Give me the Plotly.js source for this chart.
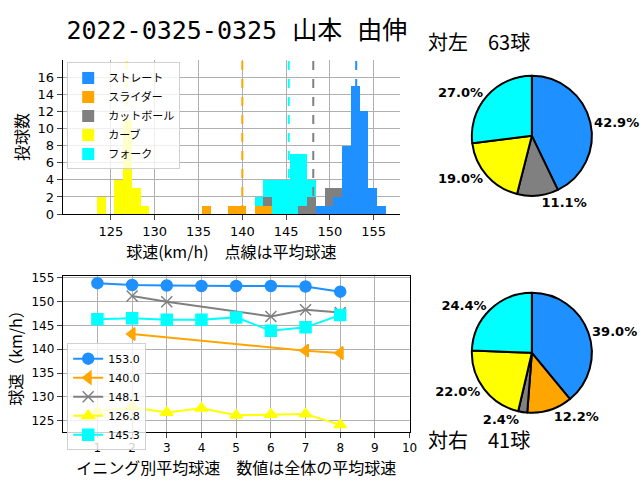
<!DOCTYPE html>
<html><head><meta charset="utf-8">
<script src="https://cdn.plot.ly/plotly-3.0.1.min.js"></script>
</head><body style="margin:0">
<div id="chart" style="width:640px;height:480px"></div>
<script>
// pitch types and colours
var pitchNames = ['ストレート', 'スライダー', 'カットボール', 'カーブ', 'フォーク'];
var pitchColors = ['#1e90ff', '#ffa500', '#808080', '#ffff00', '#00ffff'];
var pitchMeans = [153.0, 140.0, 148.1, 126.8, 145.3];

// histogram bins (1 km/h wide), counts per type
var binCenters = [123.9, 124.9, 125.9, 126.9, 127.9, 128.9, 135.9, 138.9, 139.9, 141.9, 142.9, 143.9, 144.9, 145.9, 146.9, 147.9, 148.9, 149.9, 150.9, 151.9, 152.9, 153.9, 154.9, 155.9];
var cntStraight = [0, 0, 0, 0, 0, 0, 0, 0, 0, 0, 0, 0, 0, 0, 0, 0, 1, 1, 2, 8, 15, 12, 3, 1];
var cntSlider   = [0, 0, 0, 0, 0, 0, 1, 1, 1, 1, 1, 0, 0, 0, 0, 0, 0, 0, 0, 0, 0, 0, 0, 0];
var cntCutter   = [0, 0, 0, 0, 0, 0, 0, 0, 0, 0, 1, 0, 0, 0, 1, 2, 0, 2, 1, 0, 0, 0, 0, 0];
var cntCurve    = [2, 0, 4, 11, 3, 1, 0, 0, 0, 0, 0, 0, 0, 0, 0, 0, 0, 0, 0, 0, 0, 0, 0, 0];
var cntFork     = [0, 0, 0, 0, 0, 0, 0, 0, 0, 1, 2, 4, 4, 7, 6, 2, 0, 0, 0, 0, 0, 0, 0, 0];

// average speed per inning (null = not thrown)
var innings = [1, 2, 3, 4, 5, 6, 7, 8];
var innStraight = [153.9, 153.5, 153.4, 153.3, 153.3, 153.3, 153.2, 152.1];
var innSlider   = [null, 143.2, null, null, null, null, 139.7, 139.2];
var innCutter   = [null, 151.2, 150.0, null, null, 146.9, 148.3, 147.7];
var innCurve    = [126.9, 127.8, 126.7, 127.6, 126.1, 126.3, 126.4, 124.1];
var innFork     = [146.3, 146.5, 146.2, 146.2, 146.7, 143.9, 144.6, 147.2];

// pie shares
var leftLabels = ['ストレート', 'カットボール', 'カーブ', 'フォーク'];
var leftCounts = [27, 7, 12, 17];
var leftColors = ['#1e90ff', '#808080', '#ffff00', '#00ffff'];
var rightLabels = ['ストレート', 'スライダー', 'カットボール', 'カーブ', 'フォーク'];
var rightCounts = [16, 5, 1, 9, 10];

var counts = [cntStraight, cntSlider, cntCutter, cntCurve, cntFork];
var innData = [innStraight, innSlider, innCutter, innCurve, innFork];
var symbols = ['circle', 'triangle-left', 'x-thin-open', 'triangle-up', 'square'];

var data = [];
for (var i = 0; i < 5; i++) {
  data.push({
    type: 'bar', x: binCenters, y: counts[i], width: 1, name: pitchNames[i],
    marker: {color: pitchColors[i]}, xaxis: 'x', yaxis: 'y', legend: 'legend'
  });
}
for (var i = 0; i < 5; i++) {
  data.push({
    type: 'scatter', mode: 'lines+markers', x: innings, y: innData[i],
    name: pitchMeans[i].toFixed(1), connectgaps: true,
    line: {color: pitchColors[i], width: 2},
    marker: {symbol: symbols[i], size: 11, color: pitchColors[i], line: {color: pitchColors[i], width: 1.5}},
    xaxis: 'x2', yaxis: 'y2', legend: 'legend2'
  });
}
var pieFont = {family: 'DejaVu Sans', size: 13, color: 'black', weight: 'bold'};
data.push({
  type: 'pie', labels: leftLabels, values: leftCounts, sort: false, direction: 'clockwise', rotation: 0,
  marker: {colors: leftColors, line: {color: 'black', width: 2}},
  texttemplate: '%{percent:.1%}', textposition: 'outside', textfont: pieFont,
  domain: {x: [0.737, 0.925], y: [0.592, 0.842]}, showlegend: false
});
data.push({
  type: 'pie', labels: rightLabels, values: rightCounts, sort: false, direction: 'clockwise', rotation: 0,
  marker: {colors: pitchColors, line: {color: 'black', width: 2}},
  texttemplate: '%{percent:.1%}', textposition: 'outside', textfont: pieFont,
  domain: {x: [0.737, 0.925], y: [0.14, 0.39]}, showlegend: false
});

// dashed mean lines
var shapes = [];
for (var i = 0; i < 5; i++) {
  shapes.push({type: 'line', xref: 'x', yref: 'y domain', x0: pitchMeans[i], x1: pitchMeans[i], y0: 0, y1: 1,
    line: {color: pitchColors[i], width: 2, dash: 'dash'}});
}

var jp = 'Noto Sans CJK JP, DejaVu Sans';
var layout = {
  width: 640, height: 480, margin: {l: 0, r: 0, t: 0, b: 0},
  paper_bgcolor: 'white', plot_bgcolor: 'white',
  font: {family: jp, size: 12, color: 'black'},
  barmode: 'stack', bargap: 0,
  title: {text: '2022-0325-0325 山本 由伸', x: 0.37, xanchor: 'center', y: 0.955, font: {size: 25, family: 'DejaVu Sans Mono, Noto Sans CJK JP'}},
  xaxis: {domain: [0.098, 0.625], range: [119.5, 158], tickvals: [125, 130, 135, 140, 145, 150, 155],
    showgrid: true, gridcolor: '#b0b0b0', showline: true, linecolor: 'black', mirror: false, ticks: 'outside',
    tickfont: {size: 13, family: 'DejaVu Sans'},
    title: {text: '球速(km/h)　点線は平均球速', font: {size: 16}, standoff: 4}, zeroline: false, anchor: 'y'},
  yaxis: {domain: [0.554, 0.875], range: [0, 18], tickvals: [0, 2, 4, 6, 8, 10, 12, 14, 16],
    showgrid: true, gridcolor: '#b0b0b0', showline: true, linecolor: 'black', ticks: 'outside',
    tickfont: {size: 13, family: 'DejaVu Sans'},
    title: {text: '投球数', font: {size: 16}, standoff: 4}, zeroline: false, anchor: 'x'},
  xaxis2: {domain: [0.098, 0.64], range: [0, 10], tickvals: [1, 2, 3, 4, 5, 6, 7, 8, 9, 10],
    showgrid: true, gridcolor: '#b0b0b0', showline: true, linecolor: 'black', mirror: true, ticks: 'outside',
    tickfont: {size: 12, family: 'DejaVu Sans'},
    title: {text: 'イニング別平均球速　数値は全体の平均球速', font: {size: 16}, standoff: 4}, zeroline: false, anchor: 'y2'},
  yaxis2: {domain: [0.1, 0.425], range: [122.6, 155.4], tickvals: [125, 130, 135, 140, 145, 150, 155],
    showgrid: true, gridcolor: '#b0b0b0', showline: true, linecolor: 'black', mirror: true, ticks: 'outside',
    tickfont: {size: 12, family: 'DejaVu Sans'},
    title: {text: '球速（km/h）', font: {size: 16}, standoff: 4}, zeroline: false, anchor: 'x2'},
  legend: {x: 0.105, y: 0.87, xanchor: 'left', yanchor: 'top', bgcolor: 'rgba(255,255,255,0.8)',
    bordercolor: '#d0d0d0', borderwidth: 1, font: {size: 11}, traceorder: 'normal', tracegroupgap: 0},
  legend2: {x: 0.105, y: 0.285, xanchor: 'left', yanchor: 'top', bgcolor: 'rgba(255,255,255,0.8)',
    bordercolor: '#d0d0d0', borderwidth: 1, font: {size: 11, family: 'DejaVu Sans'}},
  shapes: shapes,
  annotations: [
    {text: '対左　63球', xref: 'paper', yref: 'paper', x: 0.831, y: 0.948, showarrow: false, font: {size: 20}},
    {text: '対右　41球', xref: 'paper', yref: 'paper', x: 0.831, y: 0.05, showarrow: false, font: {size: 20}}
  ]
};
Plotly.newPlot('chart', data, layout, {staticPlot: true});
</script>
</body></html>
